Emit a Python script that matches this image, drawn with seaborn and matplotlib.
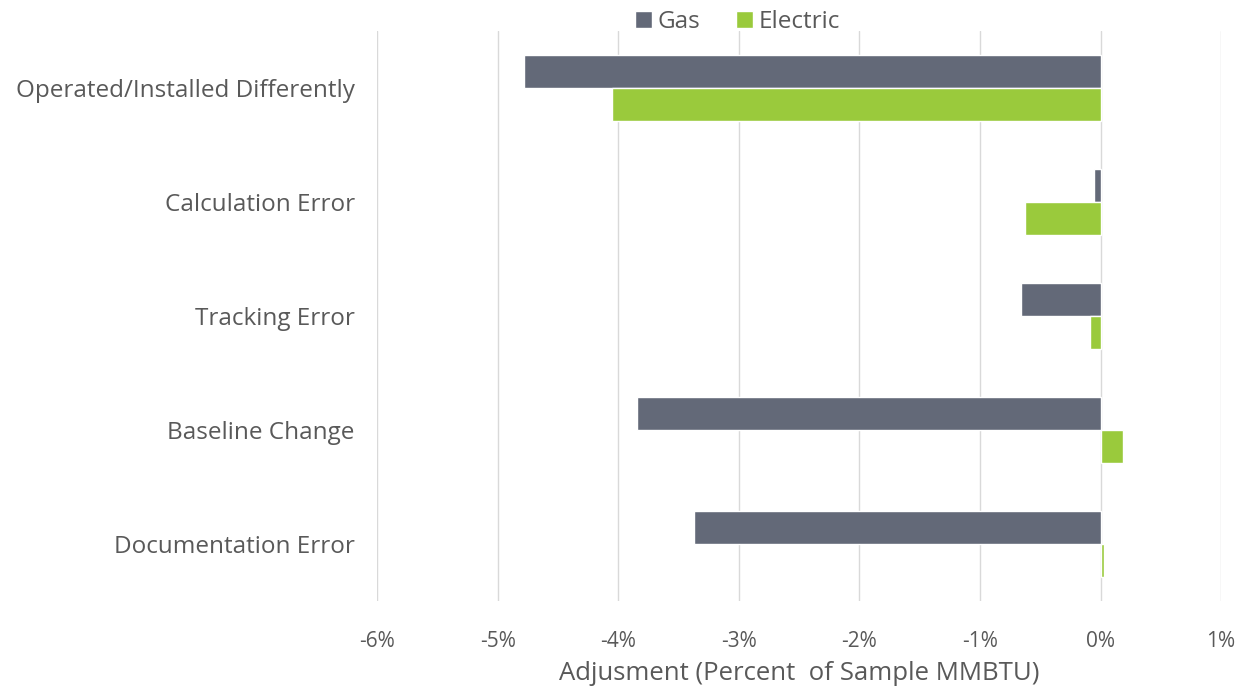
import pandas as pd
import matplotlib.pyplot as plt
import seaborn as sns
from matplotlib.ticker import FuncFormatter

# Data (percent of sample MMBTU)
categories = ['Operated/Installed Differently', 'Calculation Error', 'Tracking Error',
              'Baseline Change', 'Documentation Error']
gas = [-4.78, -0.05, -0.66, -3.84, -3.37]
electric = [-4.05, -0.63, -0.09, 0.19, 0.025]

df = pd.DataFrame({
    'Category': categories * 2,
    'Fuel': ['Gas'] * len(categories) + ['Electric'] * len(categories),
    'Adjustment': gas + electric,
})

sns.set_style('white')
plt.rcParams['font.family'] = ['Open Sans', 'DejaVu Sans']
text_color = '#595959'

fig = plt.figure(figsize=(12.46, 6.86), dpi=100)
ax = fig.add_axes([0.3026, 0.124, 0.6774, 0.831])

sns.barplot(data=df, y='Category', x='Adjustment', hue='Fuel', orient='h',
            palette={'Gas': '#636978', 'Electric': '#9ACA3C'}, saturation=1,
            width=0.58, ax=ax, legend=True)

ax.set_xlim(-6, 1)
ax.set_xticks(range(-6, 2))
ax.xaxis.set_major_formatter(FuncFormatter(lambda v, p: f'{v:.0f}%'))
ax.grid(axis='x', color='#d9d9d9', linewidth=1)
ax.set_axisbelow(True)
for s in ax.spines.values():
    s.set_visible(False)

ax.tick_params(axis='both', length=0, labelcolor=text_color)
ax.tick_params(axis='y', labelsize=17.5, pad=16)
ax.tick_params(axis='x', labelsize=15, pad=22)
ax.set_ylabel('')
ax.set_xlabel('Adjusment (Percent  of Sample MMBTU)', fontsize=18.5, color=text_color, labelpad=6)

ax.legend(loc='upper center', bbox_to_anchor=(0.427, 1.075), ncol=2, frameon=False,
          fontsize=17.5, labelcolor=text_color, handlelength=0.7, handleheight=0.7,
          handletextpad=0.2, columnspacing=1.5)

fig.savefig('out.png', dpi=100)
